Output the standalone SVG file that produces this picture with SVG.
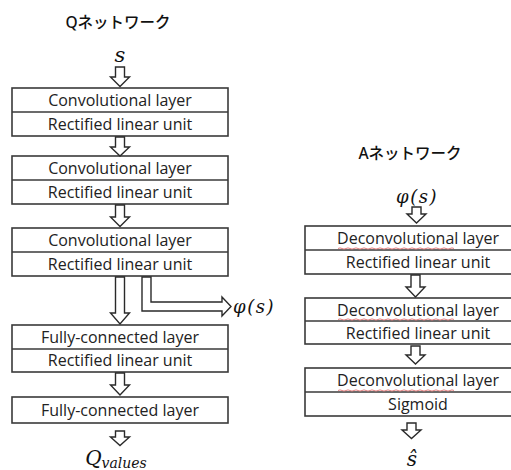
<svg xmlns="http://www.w3.org/2000/svg" width="511" height="470" viewBox="0 0 511 470">
<style>
.box{fill:#fff;stroke:#3a3a3a;stroke-width:1.6}
.div{stroke:#3a3a3a;stroke-width:1.6}
.arr{fill:#fff;stroke:#2a2a2a;stroke-width:1.4;stroke-linejoin:miter}
.t{font-family:"Open Sans","Noto Sans",sans-serif;font-size:16px;fill:#222;text-anchor:middle}
.title{font-family:"Noto Sans","Noto Sans CJK JP",sans-serif;font-size:15.5px;font-weight:500;fill:#111;text-anchor:middle}
.m{font-family:"DejaVu Serif","Liberation Serif",serif;font-style:italic;fill:#111;text-anchor:middle}
.sq{fill:none;stroke:#e07070;stroke-width:0.9}
</style>
<rect width="511" height="470" fill="#fff"/>
<g id="titleQ"><text class="title" x="118" y="28">Qネットワーク</text></g>
<g id="titleA"><text class="title" x="410" y="159">Aネットワーク</text></g>
<g id="input-s"><text class="m" x="120" y="62" font-size="21">s</text></g>

<g id="q1"><rect class="box" x="12" y="88" width="216" height="48"/><line class="div" x1="12" y1="112" x2="228" y2="112"/>
<text class="t" x="120" y="106">Convolutional layer</text><text class="t" x="120" y="130">Rectified linear unit</text></g>
<g id="q2"><rect class="box" x="12" y="156" width="216" height="48"/><line class="div" x1="12" y1="180" x2="228" y2="180"/>
<text class="t" x="120" y="174">Convolutional layer</text><text class="t" x="120" y="198">Rectified linear unit</text></g>
<g id="q3"><rect class="box" x="12" y="228" width="216" height="48"/><line class="div" x1="12" y1="252" x2="228" y2="252"/>
<text class="t" x="120" y="246">Convolutional layer</text><text class="t" x="120" y="270">Rectified linear unit</text></g>
<g id="q4"><rect class="box" x="12" y="325" width="216" height="47"/><line class="div" x1="12" y1="349" x2="228" y2="349"/>
<text class="t" x="120" y="343">Fully-connected layer</text><text class="t" x="120" y="366">Rectified linear unit</text></g>
<g id="q5"><rect class="box" x="12" y="397" width="216" height="26"/>
<text class="t" x="120" y="416">Fully-connected layer</text></g>
<g id="qout"><text class="m" x="116" y="465"><tspan font-size="20">Q</tspan><tspan font-size="14" dy="3">values</tspan></text></g>

<g id="phi-out"><text class="m" x="254" y="313" font-size="18" letter-spacing="1.5">φ(s)</text></g>
<g id="phi-in"><text class="m" x="417" y="203" font-size="18" letter-spacing="1.5">φ(s)</text></g>

<g id="a1"><rect class="box" x="305" y="226" width="224" height="48"/><line class="div" x1="305" y1="250" x2="529" y2="250"/>
<text class="t" x="418" y="244">Deconvolutional layer</text><text class="t" x="418" y="268">Rectified linear unit</text>
<path class="sq" d="M338,248.5 q2,-1.2 4,0 t4,0 t4,0 t4,0 t4,0 t4,0 t4,0 t4,0 t4,0 t4,0 t4,0 t4,0 t4,0 t4,0 t4,0 t4,0 t4,0 t4,0 t4,0 t4,0 t4,0 t4,0 t4,0 t4,0 t4,0 t4,0 t4,0 t4,0 t4,0"/></g>
<g id="a2"><rect class="box" x="305" y="298" width="224" height="46"/><line class="div" x1="305" y1="321" x2="529" y2="321"/>
<text class="t" x="418" y="316">Deconvolutional layer</text><text class="t" x="418" y="339">Rectified linear unit</text>
<path class="sq" d="M338,319.5 q2,-1.2 4,0 t4,0 t4,0 t4,0 t4,0 t4,0 t4,0 t4,0 t4,0 t4,0 t4,0 t4,0 t4,0 t4,0 t4,0 t4,0 t4,0 t4,0 t4,0 t4,0 t4,0 t4,0 t4,0 t4,0 t4,0 t4,0 t4,0 t4,0 t4,0"/></g>
<g id="a3"><rect class="box" x="305" y="368" width="224" height="48"/><line class="div" x1="305" y1="392" x2="529" y2="392"/>
<text class="t" x="418" y="386">Deconvolutional layer</text><text class="t" x="418" y="410">Sigmoid</text>
<path class="sq" d="M338,390.5 q2,-1.2 4,0 t4,0 t4,0 t4,0 t4,0 t4,0 t4,0 t4,0 t4,0 t4,0 t4,0 t4,0 t4,0 t4,0 t4,0 t4,0 t4,0 t4,0 t4,0 t4,0 t4,0 t4,0 t4,0 t4,0 t4,0 t4,0 t4,0 t4,0 t4,0"/></g>
<g id="aout"><text class="m" x="412" y="466" font-size="20">ŝ</text></g>

<g id="connectors">
<path class="arr" d="M115.5,67 h9 v10 h5 l-9.5,9.5 l-9.5,-9.5 h5 z"/>
<path class="arr" d="M115.5,137 h9 v10 h5 l-9.5,9 l-9.5,-9 h5 z"/>
<path class="arr" d="M115.5,205 h9 v12 h5 l-9.5,9.5 l-9.5,-9.5 h5 z"/>
<path class="arr" d="M115.5,277 h9 v36 h5 l-9.5,11 l-9.5,-11 h5 z"/>
<path class="arr" d="M142,277 h9 v25 h71 v-5 l9,9.5 l-9,9.5 v-5 h-80 z"/>
<path class="arr" d="M115.5,373 h9 v12 h5 l-9.5,10 l-9.5,-10 h5 z"/>
<path class="arr" d="M115.5,431 h9 v6 h5 l-9.5,8.5 l-9.5,-8.5 h5 z"/>
<path class="arr" d="M412,207 h9 v7 h5 l-9.5,9 l-9.5,-9 h5 z"/>
<path class="arr" d="M411,275 h9 v12 h5 l-9.5,10 l-9.5,-10 h5 z"/>
<path class="arr" d="M411,346 h9 v9 h5 l-9.5,9 l-9.5,-9 h5 z"/>
<path class="arr" d="M407,423 h9 v7 h5 l-9.5,8.5 l-9.5,-8.5 h5 z"/>
</g>
</svg>
